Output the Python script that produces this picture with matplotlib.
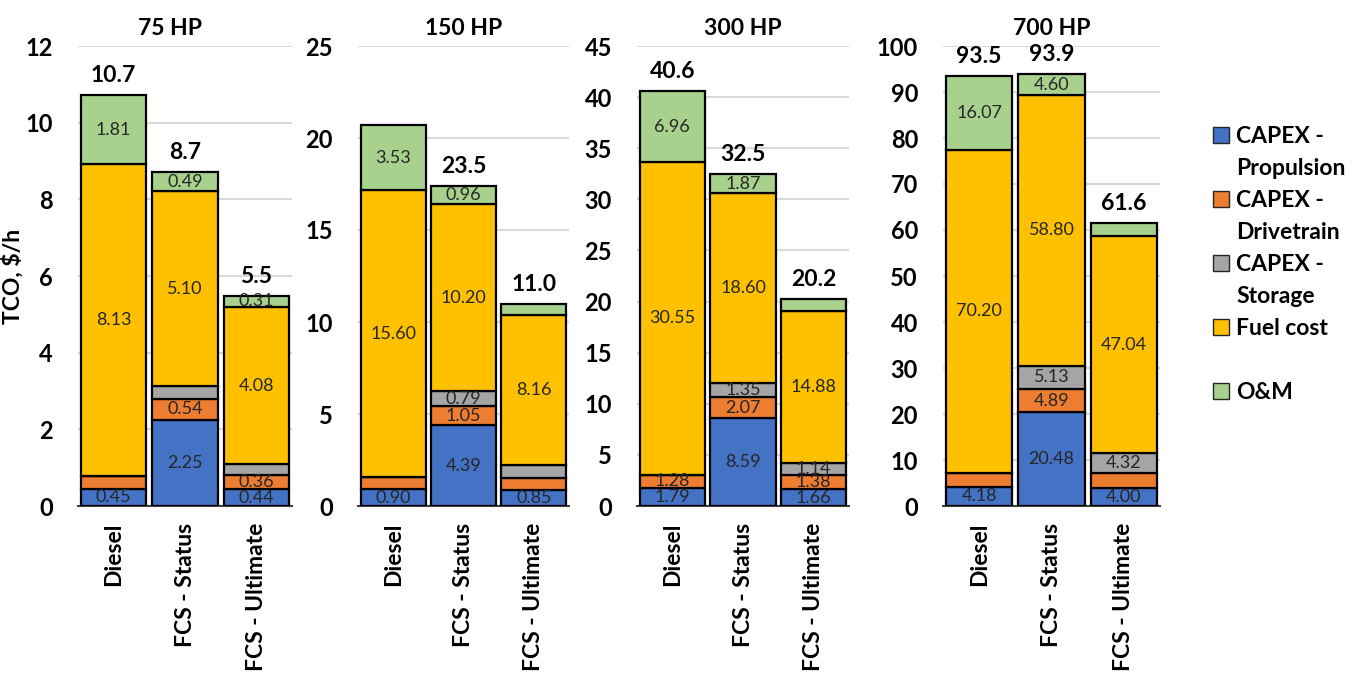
import matplotlib.pyplot as plt
import matplotlib.patches as mpatches
import numpy as np

plt.rcParams['font.family'] = ['Lato', 'DejaVu Sans']

categories = ['Diesel', 'FCS - Status', 'FCS - Ultimate']
panels = ['75 HP', '150 HP', '300 HP', '700 HP']
components = ['CAPEX -\nPropulsion', 'CAPEX -\nDrivetrain', 'CAPEX -\nStorage', 'Fuel cost', 'O&M']
colors = ['#4472C4', '#ED7D31', '#A5A5A5', '#FFC000', '#A9D18E']

# cost components, $/h, one row per power rating
propulsion = [[0.45, 2.25, 0.44], [0.90, 4.39, 0.85], [1.79, 8.59, 1.66], [4.18, 20.48, 4.00]]
drivetrain = [[0.33, 0.54, 0.36], [0.65, 1.05, 0.65], [1.28, 2.07, 1.38], [3.10, 4.89, 3.25]]
storage = [[0.00, 0.33, 0.30], [0.00, 0.79, 0.73], [0.00, 1.35, 1.14], [0.00, 5.13, 4.32]]
fuel = [[8.13, 5.10, 4.08], [15.60, 10.20, 8.16], [30.55, 18.60, 14.88], [70.20, 58.80, 47.04]]
om = [[1.81, 0.49, 0.31], [3.53, 0.96, 0.61], [6.96, 1.87, 1.15], [16.07, 4.60, 3.00]]

# which segment values get a data label
show_propulsion = [[1, 1, 1], [1, 1, 1], [1, 1, 1], [1, 1, 1]]
show_drivetrain = [[0, 1, 1], [0, 1, 0], [1, 1, 1], [0, 1, 0]]
show_storage = [[0, 0, 0], [0, 1, 0], [0, 1, 1], [0, 1, 1]]
show_fuel = [[1, 1, 1], [1, 1, 1], [1, 1, 1], [1, 1, 1]]
show_om = [[1, 1, 1], [1, 1, 0], [1, 1, 0], [1, 1, 0]]

total_labels = [['10.7', '8.7', '5.5'], ['', '23.5', '11.0'],
                ['40.6', '32.5', '20.2'], ['93.5', '93.9', '61.6']]

y_max = [12, 25, 45, 100]
y_step = [2, 5, 5, 10]

series = [propulsion, drivetrain, storage, fuel, om]
shows = [show_propulsion, show_drivetrain, show_storage, show_fuel, show_om]

W, H = 1368, 679
fig = plt.figure(figsize=(W / 100, H / 100), dpi=100)

# axes boxes in pixels: left, width
boxes = [(78, 214), (358, 211), (637, 212), (943, 217)]
ax_bottom, ax_top = 506, 46

x = np.arange(len(categories))
for p, name in enumerate(panels):
    left, width = boxes[p]
    ax = fig.add_axes([left / W, 1 - ax_bottom / H, width / W, (ax_bottom - ax_top) / H])
    bottom = np.zeros(len(categories))
    for s, vals in enumerate(series):
        v = np.array(vals[p])
        ax.bar(x, v, bottom=bottom, width=0.92, color=colors[s],
               edgecolor='black', linewidth=1.6, zorder=3)
        for i in range(len(categories)):
            if shows[s][p][i]:
                ax.text(x[i], bottom[i] + v[i] / 2, f'{v[i]:.2f}', ha='center', va='center',
                        fontsize=13, color='#262626', zorder=4)
        bottom = bottom + v
    for i in range(len(categories)):
        if total_labels[p][i]:
            ax.annotate(total_labels[p][i], (x[i], bottom[i]), xytext=(0, 14),
                        textcoords='offset points', ha='center', va='center',
                        fontsize=16.5, fontweight='bold')

    ax.set_xlim(-0.5, 2.5)
    ax.set_ylim(0, y_max[p])
    ax.set_yticks(np.arange(0, y_max[p] + 0.1, y_step[p]))
    ax.set_xticks(x)
    ax.set_xticklabels(categories, rotation=90, fontsize=16.5, fontweight='bold')
    ax.tick_params(axis='both', length=0)
    ax.tick_params(axis='y', pad=18, labelsize=17)
    ax.tick_params(axis='x', pad=12)
    for lbl in ax.get_yticklabels():
        lbl.set_fontweight('bold')
    ax.grid(axis='y', color='#D9D9D9', linewidth=1.5, zorder=0)
    for side in ['left', 'right', 'top']:
        ax.spines[side].set_visible(False)
    ax.spines['bottom'].set_color('#404040')
    ax.spines['bottom'].set_linewidth(1.5)
    ax.set_title(name, fontsize=16.5, fontweight='bold', pad=8,
                 x=0.43 if p == 0 else 0.5)
    if p == 0:
        ax.set_ylabel('TCO, $/h', fontsize=16.5, fontweight='bold')
        ax.yaxis.set_label_coords(-0.252, 0.5)

# legend, drawn line by line
line_h = 32
legend_rows = [0, 2, 4, 6, 8]
first_line = 135
for s, label in enumerate(components):
    yc = first_line + legend_rows[s] * line_h
    fig.patches.append(mpatches.Rectangle((1213 / W, 1 - (yc + 8) / H), 16 / W, 16 / H,
                                          transform=fig.transFigure, facecolor=colors[s],
                                          edgecolor='#262626', linewidth=1))
    for k, line in enumerate(label.split('\n')):
        fig.text(1236 / W, 1 - (yc + 8 + k * line_h) / H, line, fontsize=16.5,
                 fontweight='bold', va='baseline', ha='left')

fig.savefig('out.png', dpi=100)
